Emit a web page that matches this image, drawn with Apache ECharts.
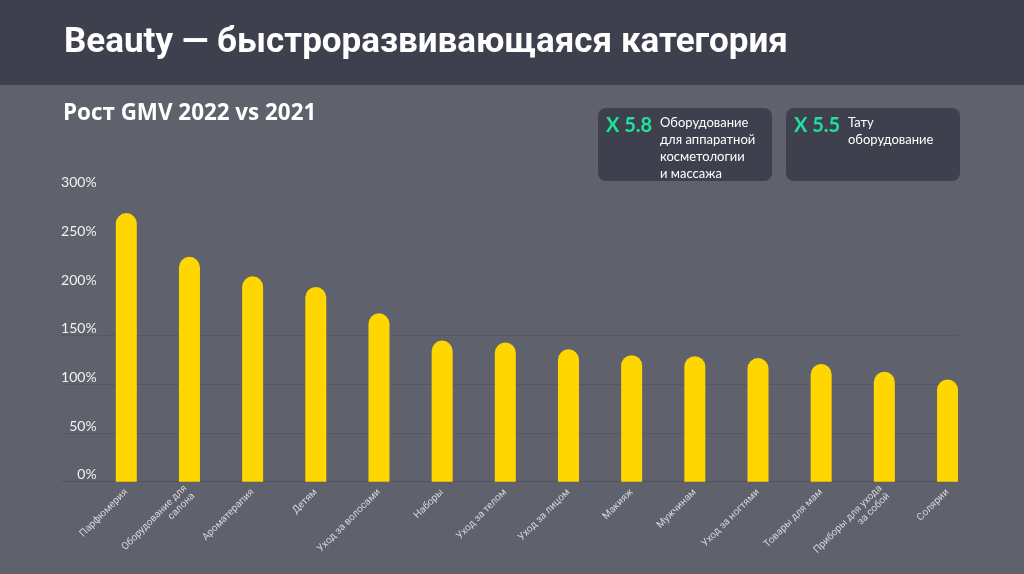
<!DOCTYPE html>
<html>
<head>
<meta charset="utf-8">
<script src="https://cdn.jsdelivr.net/npm/echarts@6/dist/echarts.min.js"></script>
<style>
html,body{margin:0;padding:0;background:#5f626c;}
#chart{width:1024px;height:574px;}
</style>
</head>
<body>
<div id="chart"></div>
<script>
const categories = ['Парфюмерия','Оборудование для\nсалона','Ароматерапия','Детям','Уход за волосами','Наборы','Уход за телом','Уход за лицом','Макияж','Мужчинам','Уход за ногтями','Товары для мам','Приборы для ухода\nза собой','Солярии'];
const growth = [276, 231, 211, 200, 173, 145, 143, 136, 130, 129, 127, 121, 113, 105];
const yTicks = [0, 50, 100, 150, 200, 250, 300];
const titleText = 'Beauty — быстроразвивающаяся категория';
const subtitleText = 'Рост GMV 2022 vs 2021';
const callouts = [
  {mult: 'X 5.8', text: 'Оборудование\nдля аппаратной\nкосметологии\nи массажа'},
  {mult: 'X 5.5', text: 'Тату\nоборудование'}
];

const chart = echarts.init(document.getElementById('chart'));
const gridLineColor = '#555862';
const splitColors = yTicks.map(v => v === 0 ? '#50535d' : (v <= 150 ? gridLineColor : 'rgba(0,0,0,0)'));

const boxX = [598, 786];
const graphics = [
  {type:'rect', left:0, top:0, shape:{width:1024, height:85}, style:{fill:'#3e404d'}, z:0},
  {type:'text', left:64, top:26, style:{text:titleText, fill:'#ffffff', font:'bold 35px Roboto'}},
  {type:'text', left:63, top:103, style:{text:subtitleText, fill:'#ffffff', font:'bold 22.4px "Open Sans"'}}
];
callouts.forEach((c, i) => {
  const x = boxX[i];
  graphics.push({type:'rect', left:x, top:108, shape:{width:174, height:73, r:8}, style:{fill:'#3e404d'}});
  graphics.push({type:'text', left:x + 8, top:116, style:{text:c.mult, fill:'#1ee39a', font:'bold 20px Lato'}});
  graphics.push({type:'text', left:x + 62, top:114, style:{text:c.text, fill:'#ffffff', font:'13px Lato', lineHeight:17}});
});

chart.setOption({
  backgroundColor: '#5f626c',
  animation: false,
  graphic: graphics,
  grid: [
    {left: 94.7, right: 44.9, top: 189.7, bottom: 92.3},
    {left: 62, right: 66, top: 189.7, bottom: 92.3}
  ],
  xAxis: [
    {
      type: 'category', gridIndex: 0, data: categories,
      axisLine: {show: false}, axisTick: {show: false},
      axisLabel: {rotate: 45, margin: 9, color: '#d4d5da', fontSize: 10, fontFamily: 'Roboto', lineHeight: 11, interval: 0}
    },
    {type: 'value', gridIndex: 1, min: 0, max: 1, show: false}
  ],
  yAxis: [
    {
      type: 'value', gridIndex: 0, min: 0, max: 300, interval: 50,
      axisLine: {show: false}, axisTick: {show: false}, splitLine: {show: false},
      axisLabel: {formatter: '{value}%', color: '#f2f2f4', fontSize: 14, fontFamily: 'Lato', align: 'right', verticalAlign: 'bottom', margin: -2}
    },
    {
      type: 'value', gridIndex: 1, min: 0, max: 300, interval: 50,
      axisLine: {show: false}, axisTick: {show: false}, axisLabel: {show: false},
      splitLine: {show: true, lineStyle: {color: splitColors, width: 1}}
    }
  ],
  series: [{
    type: 'bar', xAxisIndex: 0, yAxisIndex: 0, data: growth,
    barWidth: 21,
    itemStyle: {color: '#ffd600', borderRadius: [10.5, 10.5, 0, 0]},
    z: 3
  }]
});
</script>
</body>
</html>
